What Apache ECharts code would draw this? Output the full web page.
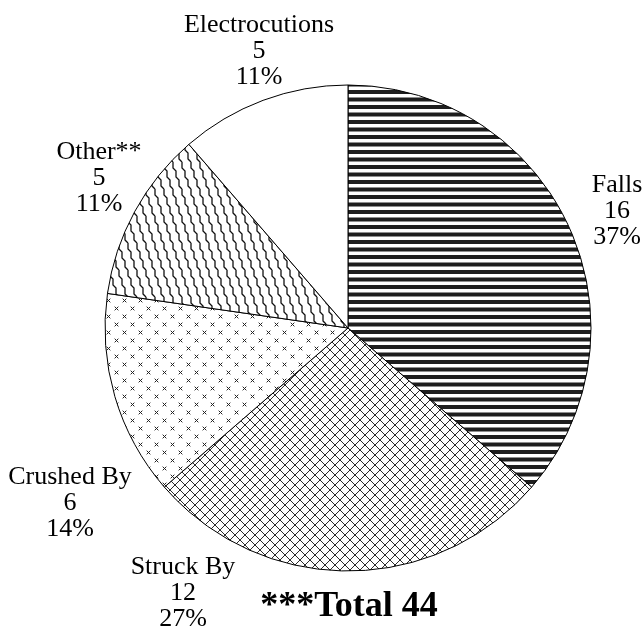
<!DOCTYPE html>
<html>
<head>
<meta charset="utf-8">
<script src="https://cdn.jsdelivr.net/npm/echarts@6/dist/echarts.min.js"></script>
<style>
  html, body { margin: 0; padding: 0; background: #fff; }
  #chart { width: 644px; height: 632px; }
</style>
</head>
<body>
<div id="chart"></div>
<script>
// Fatality categories, clockwise from 12 o'clock
const categories = ['Falls', 'Struck By', 'Crushed By', 'Other**', 'Electrocutions'];
const counts = [16, 12, 6, 5, 5];
const percents = [37, 27, 14, 11, 11];
const totalPrefix = '***Total ';

// Label block centres (text placement only)
const labelPos = [
  [617, 211],
  [183, 593],
  [70, 503],
  [99, 178],
  [259, 51]
];

function makeCanvas(w, h) {
  const c = document.createElement('canvas');
  c.width = w; c.height = h;
  const ctx = c.getContext('2d');
  ctx.fillStyle = '#fff';
  ctx.fillRect(0, 0, w, h);
  return [c, ctx];
}

// Horizontal black stripes
function stripePattern() {
  const [c, ctx] = makeCanvas(8, 15);
  ctx.fillStyle = '#1e1e1e';
  ctx.fillRect(0, 0, 8, 4);
  ctx.fillRect(0, 7.5, 8, 4);
  return c;
}

// Diagonal crosshatch
function crossHatchPattern() {
  const s = 10;
  const [c, ctx] = makeCanvas(s, s);
  ctx.strokeStyle = '#2a2a2a';
  ctx.lineWidth = 1;
  ctx.beginPath();
  for (const k of [-s, 0, s]) {
    ctx.moveTo(k - 1, -1); ctx.lineTo(k + s + 1, s + 1);
  }
  for (const k of [0, s, 2 * s]) {
    ctx.moveTo(k + 1, -1); ctx.lineTo(k - s - 1, s + 1);
  }
  ctx.stroke();
  return c;
}

// Small x marks on a staggered lattice
function confettiPattern() {
  const [c, ctx] = makeCanvas(16, 16);
  ctx.fillStyle = '#222';
  const marks = [[4, 4], [12, 12]];
  for (const [cx, cy] of marks) {
    for (const d of [-1, 0, 1]) {
      ctx.fillRect(cx + d, cy + d, 1, 1);
      ctx.fillRect(cx + d, cy - d, 1, 1);
    }
  }
  ctx.globalAlpha = 0.35;
  for (const [cx, cy] of marks) {
    ctx.fillRect(cx - 2, cy - 2, 1, 1); ctx.fillRect(cx + 2, cy - 2, 1, 1);
    ctx.fillRect(cx - 2, cy + 2, 1, 1); ctx.fillRect(cx + 2, cy + 2, 1, 1);
  }
  return c;
}

// Stepped "shingle" lines
function shinglePattern() {
  const w = 9, h = 27;
  const [c, ctx] = makeCanvas(w, h);
  ctx.strokeStyle = '#111';
  ctx.lineWidth = 1.3;
  ctx.beginPath();
  for (const off of [-w, 0, w]) {
    let x = 2 + off, y = 0;
    ctx.moveTo(x, y);
    for (let i = 0; i < 3; i++) {
      ctx.lineTo(x, y + 6);
      x += 3; y += 9;
      ctx.lineTo(x, y);
    }
  }
  ctx.stroke();
  return c;
}

const fills = [
  { image: stripePattern(), repeat: 'repeat' },
  { image: crossHatchPattern(), repeat: 'repeat' },
  { image: confettiPattern(), repeat: 'repeat' },
  { image: shinglePattern(), repeat: 'repeat' },
  '#ffffff'
];

const total = counts.reduce((a, b) => a + b, 0);
const font = '"Liberation Serif", "Times New Roman", serif';

const chart = echarts.init(document.getElementById('chart'), null, { renderer: 'canvas' });
chart.setOption({
  animation: false,
  backgroundColor: '#fff',
  series: [{
    type: 'pie',
    center: [348, 328],
    radius: 243,
    startAngle: 90,
    clockwise: true,
    avoidLabelOverlap: false,
    silent: true,
    data: categories.map((name, i) => ({
      name,
      value: counts[i],
      itemStyle: { color: fills[i] }
    })),
    itemStyle: { borderColor: '#000', borderWidth: 1 },
    label: {
      show: true,
      position: 'outside',
      color: '#000',
      fontFamily: font,
      fontSize: 26,
      lineHeight: 26,
      align: 'center',
      formatter: (p) => categories[p.dataIndex] + '\n' + counts[p.dataIndex] + '\n' + percents[p.dataIndex] + '%'
    },
    labelLine: { show: false },
    labelLayout: (p) => ({
      x: labelPos[p.dataIndex][0],
      y: labelPos[p.dataIndex][1],
      align: 'center',
      verticalAlign: 'middle'
    }),
    emphasis: { disabled: true }
  }],
  graphic: [{
    type: 'text',
    x: 349,
    y: 607,
    style: {
      text: totalPrefix + total,
      font: 'bold 36px ' + font,
      fill: '#000',
      align: 'center',
      verticalAlign: 'middle'
    }
  }]
});
</script>
</body>
</html>
